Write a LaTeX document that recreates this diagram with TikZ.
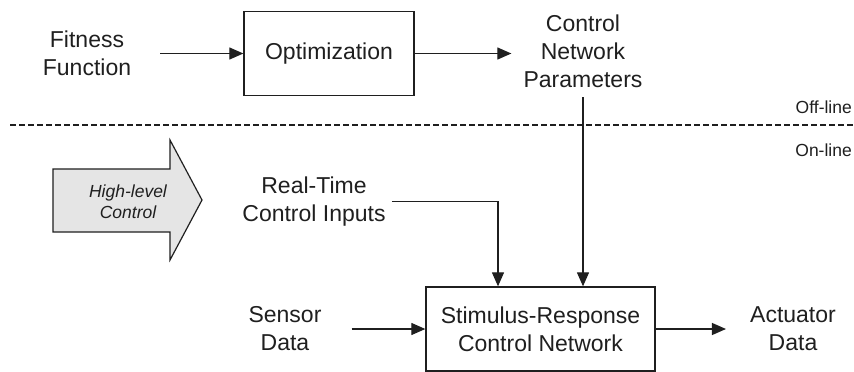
\documentclass[tikz,border=0pt]{standalone}
\usepackage{fontspec}
\setmainfont{Liberation Sans}
\usetikzlibrary{arrows.meta}
\tikzset{
  lbl/.style={align=center, inner sep=0pt, font=\fontsize{23}{28}\selectfont},
  small/.style={align=center, inner sep=0pt, font=\fontsize{17.5}{21}\selectfont},
  blk/.style={draw, line width=1.3pt, lbl, minimum width=#1, minimum height=84pt},
  flow/.style={line width=1.2pt, -{Triangle[length=14pt,width=12pt]}}
}
\begin{document}
\begin{tikzpicture}[x=1pt, y=-1pt, color=black!88]
\useasboundingbox (0,0) rectangle (854,372);
% off-line part
\node[lbl] (fit) at (87,53.5) {Fitness\\Function};
\node[blk=170pt] (opt) at (329,53.5) {Optimization};
\node[lbl] (cnp) at (583,51.5) {Control\\Network\\Parameters};
\draw[flow] ([xshift=29pt]fit.east) -- (opt.west);\draw[flow] (opt.east) -- ([xshift=-12pt]cnp.west |- opt.east);
% separator
\draw[line width=1.2pt, dash pattern=on 6pt off 3pt] (10,125) -- (854,125);
\node[small, anchor=east] (off) at (852,107) {Off-line};\node[small, anchor=east] (on) at (852,150) {On-line};
% high-level control arrow
\draw[line width=1.2pt, fill=black!10] (53,169) -- (170,169) -- (170,140) -- (202,200) -- (170,260) -- (170,232) -- (53,232) -- cycle;
\node[small] (hlc) at (128,202) {\itshape High-level\\\itshape Control};
% on-line part
\node[lbl] (rt) at (314,201.5) {Real-Time\\Control Inputs};
\node[blk=229pt] (sr) at (540.5,329) {Stimulus-Response\\Control Network};
\node[lbl] (sen) at (285,329) {Sensor\\Data};
\node[lbl] (act) at (793,329) {Actuator\\Data};
\draw[flow] ([xshift=6pt]rt.east) -| ([xshift=-42.5pt]sr.north);\draw[flow] ([yshift=-9pt]cnp.south) -- (cnp.south |- sr.north);
\draw[flow] ([xshift=30pt]sen.east) -- (sr.west);\draw[flow] (sr.east) -- ([xshift=-24pt]act.west);
\end{tikzpicture}
\end{document}
